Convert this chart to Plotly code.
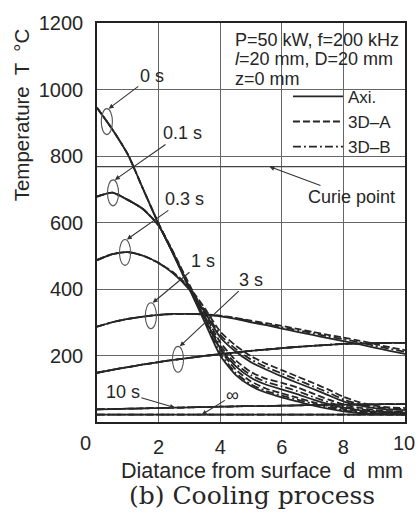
import numpy as np
import plotly.graph_objects as go

# ---------------- data ----------------
D = [0, 0.5, 1, 1.5, 2, 2.5, 3, 3.5, 4, 4.5, 5, 5.5, 6, 6.5, 7, 7.5, 8, 8.5, 9, 9.5, 10]

T0_axi = [945, 880, 805, 700, 595, 500, 400, 300, 200, 142, 108, 88, 74, 62, 50, 40, 32, 27, 24, 23, 22]
T0_3dA = [945, 880, 805, 700, 597, 503, 408, 312, 218, 158, 122, 100, 86, 73, 60, 48, 39, 32, 27, 25, 24]
T0_3dB = [945, 880, 805, 700, 596, 501, 403, 305, 207, 148, 113, 93, 79, 67, 55, 44, 35, 29, 25, 24, 23]

T01_axi = [678, 690, 668, 640, 590, 502, 405, 312, 222, 168, 133, 112, 98, 84, 68, 54, 43, 36, 31, 29, 28]
T01_3dA = [678, 690, 668, 640, 592, 507, 413, 325, 240, 186, 150, 130, 118, 104, 86, 68, 53, 43, 36, 33, 31]
T01_3dB = [678, 690, 668, 640, 591, 504, 408, 318, 230, 176, 141, 120, 107, 93, 76, 60, 47, 39, 33, 31, 29]

T03_axi = [487, 505, 511, 500, 478, 445, 398, 330, 255, 212, 180, 157, 137, 118, 100, 81, 62, 50, 42, 38, 36]
T03_3dA = [487, 505, 511, 500, 479, 448, 405, 342, 272, 230, 198, 175, 156, 137, 118, 98, 76, 60, 49, 44, 42]
T03_3dB = [487, 505, 511, 500, 478, 446, 401, 335, 262, 220, 188, 165, 146, 127, 108, 89, 68, 54, 45, 41, 39]

T1_axi = [287, 300, 310, 317, 322, 325, 325, 323, 318, 310, 300, 291, 281, 271, 262, 252, 243, 234, 224, 214, 205]
T1_3dA = [287, 300, 310, 317, 322, 325, 325, 324, 320, 313, 305, 297, 289, 280, 271, 262, 254, 245, 235, 225, 216]
T1_3dB = [287, 300, 310, 317, 322, 325, 325, 323, 319, 312, 303, 294, 285, 276, 267, 257, 249, 240, 230, 220, 211]

T3_all = [148, 157, 165, 173, 180, 187, 193, 199, 204, 209, 214, 218, 222, 226, 229, 232, 235, 236, 237, 238, 238]
T10_all = [38, 39, 40, 41, 42, 43, 44, 45, 46, 47, 48, 48, 49, 50, 51, 52, 52, 53, 53, 54, 54]
Tinf_all = [22, 22, 22, 22, 22, 22, 22, 22, 22, 22, 22, 22, 22, 22, 22, 22, 22, 22, 22, 22, 22]

CURIE = 768

MODELS = ["Axi.", "3D\u2013A", "3D\u2013B"]
TIME_LABELS = ["0 s", "0.1 s", "0.3 s", "1 s", "3 s", "10 s", "\u221e"]
SERIES = {
    "0 s": [T0_axi, T0_3dA, T0_3dB],
    "0.1 s": [T01_axi, T01_3dA, T01_3dB],
    "0.3 s": [T03_axi, T03_3dA, T03_3dB],
    "1 s": [T1_axi, T1_3dA, T1_3dB],
    "3 s": [T3_all, T3_all, T3_all],
    "10 s": [T10_all, T10_all, T10_all],
    "\u221e": [Tinf_all, Tinf_all, Tinf_all],
}

PARAM_LINES = ["P=50 kW, f=200 kHz", "<i>l</i>=20 mm, D=20 mm", "z=0 mm"]

XTICKS = [2, 4, 6, 8]
YTICKS = [200, 400, 600, 800, 1000, 1200]

# ---------------- style ----------------
INK = "#262626"
GRID = "#666666"
DASHES = ["solid", "7px,3px", "8px,3px,2px,3px"]
SANS = "Liberation Sans, Arial, sans-serif"
SERIF = "DejaVu Serif, serif"

fig = go.Figure()

# Curie line
fig.add_trace(go.Scatter(x=[0, 10], y=[CURIE, CURIE], mode="lines",
                         line=dict(color="#444", width=1.2), showlegend=False,
                         hoverinfo="skip"))

for k, t in enumerate(TIME_LABELS):
    for m, (name, dash) in enumerate(zip(MODELS, DASHES)):
        fig.add_trace(go.Scatter(
            x=D, y=SERIES[t][m], mode="lines", name=name,
            line=dict(color=INK, width=1.8, dash=dash, shape="spline", smoothing=0.6),
            showlegend=(k == 0), legendgroup=name, hoverinfo="skip"))

# ellipses on the curve bundles
ELL_W, ELL_H = 0.36, 78
ellipse_d = {"0 s": 0.32, "0.1 s": 0.52, "0.3 s": 0.91, "1 s": 1.75, "3 s": 2.63}
shapes = []
heads = {}
for t, dc in ellipse_d.items():
    tc = float(np.interp(dc, D, SERIES[t][0]))
    shapes.append(dict(type="circle", xref="x", yref="y",
                       x0=dc - ELL_W / 2, x1=dc + ELL_W / 2,
                       y0=tc - ELL_H / 2, y1=tc + ELL_H / 2,
                       line=dict(color="#555", width=1.1)))
    heads[t] = (dc + 0.06, tc + ELL_H / 2)
heads["10 s"] = (2.53, float(np.interp(2.53, D, T10_all)))
heads["\u221e"] = (3.4, float(np.interp(3.4, D, Tinf_all)))

# white patches behind the parameter text and the legend (hide gridlines there)
shapes.append(dict(type="rect", xref="paper", yref="paper", layer="between",
                   x0=0.414, x1=0.995, y0=0.845, y1=0.995,
                   fillcolor="white", line=dict(width=0)))
shapes.append(dict(type="rect", xref="paper", yref="paper", layer="between",
                   x0=0.62, x1=0.995, y0=0.672, y1=0.825,
                   fillcolor="white", line=dict(width=0)))

label_pos = {"0 s": (1.78, 1040), "0.1 s": (2.76, 869), "0.3 s": (2.85, 671),
             "1 s": (3.44, 484), "3 s": (5.0, 428), "10 s": (0.84, 89),
             "\u221e": (4.41, 80)}

annotations = []
for t in TIME_LABELS:
    hx, hy = heads[t]
    tx, ty = label_pos[t]
    annotations.append(dict(x=hx, y=hy, ax=tx, ay=ty, axref="x", ayref="y",
                            xref="x", yref="y", text=t, showarrow=True,
                            arrowhead=2, arrowsize=0.9, arrowwidth=1.1,
                            arrowcolor="#333", font=dict(family=SANS, size=18, color=INK)))

annotations.append(dict(x=5.6, y=CURIE, ax=8.27, ay=677, axref="x", ayref="y",
                        xref="x", yref="y", text="Curie point", showarrow=True,
                        arrowhead=2, arrowsize=0.9, arrowwidth=1.1, arrowcolor="#333",
                        font=dict(family=SANS, size=18, color=INK)))

# parameter text, one line each
for i, line in enumerate(PARAM_LINES):
    annotations.append(dict(xref="paper", yref="paper", x=0.44, y=0.958 - 0.049 * i,
                            xanchor="left", yanchor="middle", align="left",
                            text=line, showarrow=False,
                            font=dict(family=SANS, size=18, color=INK)))

# axis titles, extra tick labels, caption
annotations.append(dict(xref="paper", yref="paper", x=-0.245, y=0.77,
                        text="Temperature  T  \u00b0C", textangle=-90, showarrow=False,
                        xanchor="center", yanchor="middle",
                        font=dict(family=SANS, size=20.5, color=INK)))
annotations.append(dict(xref="paper", yref="paper", x=0.537, y=-0.123,
                        text="Diatance from surface  d  mm", showarrow=False,
                        xanchor="center", yanchor="middle",
                        font=dict(family=SANS, size=21.5, color=INK)))
annotations.append(dict(xref="paper", yref="paper", x=-0.036, y=-0.052,
                        text="0", showarrow=False, xanchor="center", yanchor="middle",
                        font=dict(family=SANS, size=20, color=INK)))
annotations.append(dict(xref="paper", yref="paper", x=1.039, y=-0.052,
                        text="10", showarrow=False, xanchor="right", yanchor="middle",
                        font=dict(family=SANS, size=20, color=INK)))
annotations.append(dict(xref="paper", yref="paper", x=0.504, y=-0.185,
                        text="(b) Cooling process", showarrow=False,
                        xanchor="center", yanchor="middle",
                        font=dict(family=SERIF, size=25, color=INK)))

fig.update_layout(
    width=419, height=520,
    margin=dict(l=97, r=13, t=16, b=98),
    paper_bgcolor="white", plot_bgcolor="white",
    shapes=shapes, annotations=annotations,
    legend=dict(x=0.62, y=0.86, xanchor="left", yanchor="top",
                bgcolor="rgba(0,0,0,0)", borderwidth=0, itemwidth=50,
                font=dict(family=SANS, size=17, color=INK), tracegroupgap=0),
    font=dict(family=SANS, color=INK),
)
fig.update_xaxes(range=[0, 10], tickvals=XTICKS, showgrid=True, gridcolor=GRID,
                 gridwidth=1, showline=True, mirror=True, linecolor="#222", linewidth=1.5,
                 ticks="", zeroline=False, ticklabelstandoff=6,
                 tickfont=dict(family=SANS, size=20, color=INK))
fig.update_yaxes(range=[0, 1200], tickvals=YTICKS, showgrid=True, gridcolor=GRID,
                 gridwidth=1, showline=True, mirror=True, linecolor="#222", linewidth=1.5,
                 ticks="", zeroline=False, ticklabelstandoff=8,
                 tickfont=dict(family=SANS, size=20, color=INK))

fig.write_html("out.html")
